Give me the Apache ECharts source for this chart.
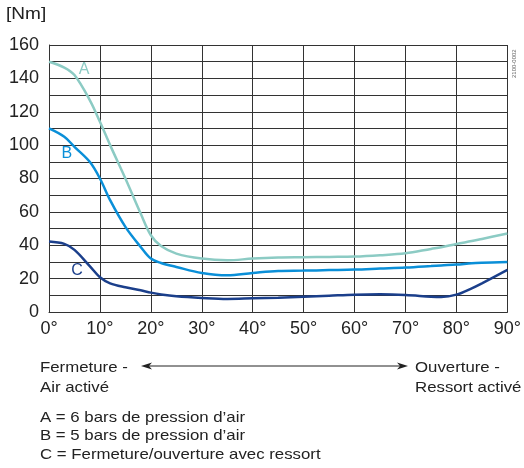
<!DOCTYPE html>
<html><head><meta charset="utf-8">
<script src="https://cdn.jsdelivr.net/npm/echarts@6/dist/echarts.min.js"></script>
<style>html,body{margin:0;padding:0;background:#fff}#c{width:524px;height:468px}</style>
</head><body><div id="c"></div>
<script>
const angles = [0,3,5,8,10,12,15,18,20,22,25,30,35,40,45,50,55,60,65,70,75,77,80,83,85,90];
const seriesA = [150,146.5,142,127,114,100,80,59,46,39.5,35,32,31,32,32.6,32.8,33,33.2,34,35.2,37.8,38.8,40.8,42.5,43.8,47];
const seriesB = [110,105,99,90,80,67,51,39,32,29.4,27,23.4,22,23.4,24.6,24.8,25.1,25.4,26,26.6,27.5,27.9,28.4,29.2,29.5,30];
const seriesC = [42.2,40.8,37.2,27.5,20.8,17.2,14.8,13,11.6,10.5,9.4,8.4,7.8,8.2,8.6,9.2,9.8,10.4,10.6,10.2,9.2,9,10.4,14.2,17.2,25.2];
const names = ['A','B','C'];
const colors = ['#8ccbc4','#0a8fd8','#1b3f8b'];
const labelPos = [[6.9,145],[3.5,95],[5.5,25]];
const yTicks = [0,20,40,60,80,100,120,140,160];
const legendLines = ['A = 6 bars de pression d\u2019air','B = 5 bars de pression d\u2019air','C = Fermeture/ouverture avec ressort'];

const font = 'Liberation Sans, Arial, sans-serif';
const sx = 1.12;
const chart = echarts.init(document.getElementById('c'));
const data = [seriesA, seriesB, seriesC];
chart.setOption({
  animation:false,
  grid:{left:49,right:16,top:45,bottom:156},
  xAxis:{type:'value',min:0,max:90,interval:10,
    axisLine:{show:true,lineStyle:{color:'#333',width:1}},axisTick:{show:false},
    splitLine:{show:true,lineStyle:{color:'#333',width:1}},
    axisLabel:{formatter:v=>v+'\u00b0',color:'#222',fontSize:18,fontFamily:font,margin:8}},
  yAxis:{type:'value',min:0,max:160,interval:10,
    axisLine:{show:true,lineStyle:{color:'#333',width:1}},axisTick:{show:false},
    splitLine:{show:true,lineStyle:{color:'#333',width:1}},
    axisLabel:{formatter:v=>yTicks.includes(v)?String(v):'',color:'#222',fontSize:18,fontFamily:font,margin:10}},
  series: data.map((d,i)=>({
    type:'line',name:names[i],smooth:0.35,symbol:'none',
    data: angles.map((a,j)=>[a,d[j]]),
    lineStyle:{color:colors[i],width:2.5},
    markPoint:{symbol:'circle',symbolSize:0,data:[{coord:labelPos[i],
      label:{show:true,formatter:names[i],color:colors[i],fontSize:16,fontFamily:font,position:'inside'}}]}
  })),
  graphic:[
    {type:'text',x:6,y:6,scaleX:sx,style:{text:'[Nm]',fontSize:17,fill:'#222',fontFamily:font}},
    {type:'text',x:511,y:78,rotation:Math.PI/2,style:{text:'2100-0002',fontSize:6,fill:'#666',fontFamily:font}},
    {type:'text',x:40,y:357.5,scaleX:sx,style:{text:'Fermeture -\nAir activ\u00e9',fontSize:15,lineHeight:20,fill:'#222',fontFamily:font}},
    {type:'text',x:415,y:357.5,scaleX:sx,style:{text:'Ouverture -\nRessort activ\u00e9',fontSize:15,lineHeight:20,fill:'#222',fontFamily:font}},
    {type:'line',shape:{x1:146,y1:366,x2:404,y2:366},style:{stroke:'#222',lineWidth:1}},
    {type:'polygon',shape:{points:[[141,366],[152,362.5],[149,366],[152,369.5]]},style:{fill:'#222'}},
    {type:'polygon',shape:{points:[[408,366],[397,362.5],[400,366],[397,369.5]]},style:{fill:'#222'}},
    {type:'text',x:40,y:408.5,scaleX:sx,style:{text:legendLines.join('\n'),fontSize:15,lineHeight:18.5,fill:'#222',fontFamily:font}}
  ]
});
</script></body></html>
